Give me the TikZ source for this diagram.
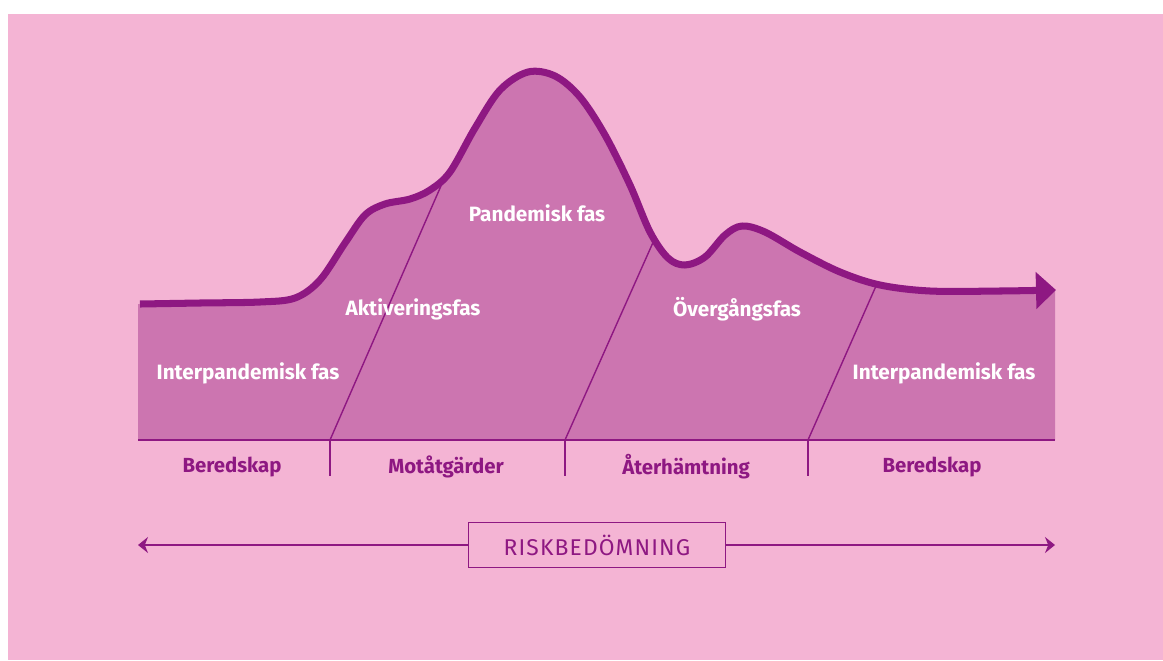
\documentclass[tikz,border=0pt]{standalone}
\usepackage{fontspec}
\setmainfont{Fira Sans}
\usepackage{tikz}
\usetikzlibrary{arrows.meta, positioning, calc}
\definecolor{bgpink}{RGB}{244,180,212}
\definecolor{areapink}{RGB}{204,117,176}
\definecolor{darkmag}{RGB}{142,24,130}
\tikzset{
  phase/.style={text=white, font=\fontsize{11.8}{14}\selectfont\bfseries},
  stage/.style={text=darkmag, font=\fontsize{11.6}{14}\selectfont\bfseries},
  curve/.style={draw=darkmag, line width=4pt, line join=round,
    -{Triangle[length=0.4cm, width=0.72cm]}},
  divider/.style={draw=darkmag, line width=0.8pt},
  baseline/.style={draw=darkmag, line width=1.1pt},
  riskbox/.style={rectangle, draw=darkmag, fill=bgpink, line width=1.1pt,
    minimum width=5.14cm, minimum height=0.9cm, text=darkmag,
    font=\fontsize{13}{15}\selectfont\addfontfeatures{LetterSpace=5}},
  riskarrow/.style={-{Stealth[length=0.2cm, width=0.32cm]}, draw=darkmag, line width=1.5pt}
}

\begin{document}
\begin{tikzpicture}[x=0.02cm, y=-0.02cm]
  \useasboundingbox (0,0) rectangle (1163,660);
  % Background
  \fill[white] (0,0) rectangle (1163,660);
  \fill[bgpink] (8,14) rectangle (1163,660);

  % Area under the curve
  \fill[areapink] (138,440) -- (138,304) -- plot[smooth, tension=0.55] coordinates {
    (140,304) (200,303) (260,302) (295,298) (320,280) (345,243) (365,215) (385,204)
    (410,199) (430,190) (450,172) (475,128) (500,90) (528,72) (555,76) (580,97)
    (605,135) (630,185) (650,232) (668,258) (685,265) (705,257) (725,235) (742,226)
    (765,232) (800,252) (840,272) (880,285) (930,291) (1000,291) (1040,290)}
    -- (1055,290) -- (1055,440) -- cycle;

  % Phase dividers
  \coordinate (d1) at (330,440);
  \coordinate (d1top) at (444,179);
  \coordinate (d2) at (565,440);
  \coordinate (d2top) at (655,238);
  \coordinate (d3) at (808,440);
  \coordinate (d3top) at (876,286);
  \foreach \d in {d1,d2,d3} {
    \draw[divider] (\d) -- (\d top);
    \draw[divider] (\d) -- ++(0,36);
  }

  % Base line
  \coordinate (baseL) at (138,440);
  \coordinate (baseR) at (1055,440);
  \draw[baseline] (baseL) -- (baseR);

  % Curve
  \draw[curve] plot[smooth, tension=0.55] coordinates {
    (140,304) (200,303) (260,302) (295,298) (320,280) (345,243) (365,215) (385,204)
    (410,199) (430,190) (450,172) (475,128) (500,90) (528,72) (555,76) (580,97)
    (605,135) (630,185) (650,232) (668,258) (685,265) (705,257) (725,235) (742,226)
    (765,232) (800,252) (840,272) (880,285) (930,291) (1000,291) (1056,290)};

  % Phase labels
  \node[phase] (interA) at (248,373) {Interpandemisk fas};
  \node[phase] (aktiv) at (413,309) {Aktiveringsfas};
  \node[phase] (pandem) at (537,213) {Pandemisk fas};
  \node[phase] (overg) at (737,309) {Övergångsfas};
  \node[phase] (interB) at (944,373) {Interpandemisk fas};

  % Stage labels
  \node[stage] (beredA) at (232,467) {Beredskap};
  \node[stage] (motat) at (446,467) {Motåtgärder};
  \node[stage] (aterh) at (686,467) {Återhämtning};
  \node[stage] (beredB) at (932,467) {Beredskap};

  % Risk assessment
  \node[riskbox] (risk) at (597,545) {RISKBEDÖMNING};
  \coordinate (riskL) at (138,545);
  \coordinate (riskR) at (1055,545);
  \draw[riskarrow] (risk.west) -- (riskL);
  \draw[riskarrow] (risk.east) -- (riskR);
\end{tikzpicture}
\end{document}
